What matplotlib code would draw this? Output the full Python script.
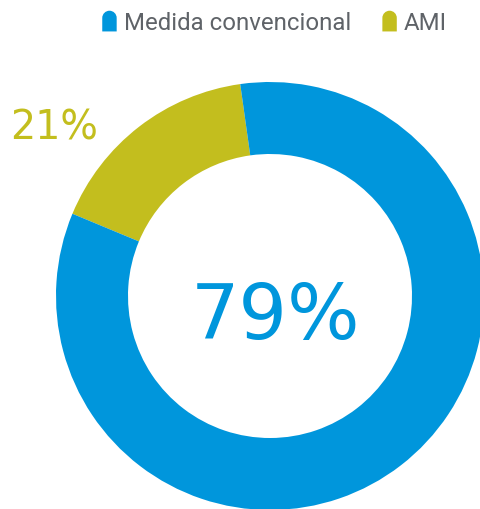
import matplotlib
matplotlib.use("Agg")
import matplotlib.pyplot as plt
import matplotlib.patches as mpatches
from matplotlib.path import Path
from matplotlib.legend_handler import HandlerPatch

# slices as drawn in the reference (AMI first, counter-clockwise)
categories = ["AMI", "Medida convencional"]
shares = [16.5, 83.5]
labels = ["21%", "79%"]
colors = ["#C3BE1E", "#0096DC"]
text_gray = "#5F6368"

plt.rcParams['font.family'] = ['Roboto', 'DejaVu Sans']


class RoundTopHandler(HandlerPatch):
    # legend marker: rectangle with a rounded top
    def create_artists(self, legend, orig_handle, xdescent, ydescent,
                       width, height, fontsize, trans):
        w = width
        h = height
        r = w / 2.0
        x0, y0 = -xdescent, -ydescent
        k = 0.5523
        verts = [
            (x0, y0), (x0 + w, y0), (x0 + w, y0 + h - r),
            (x0 + w, y0 + h - r + k * r), (x0 + r + k * r, y0 + h), (x0 + r, y0 + h),
            (x0 + r - k * r, y0 + h), (x0, y0 + h - r + k * r), (x0, y0 + h - r),
            (x0, y0),
        ]
        codes = [Path.MOVETO, Path.LINETO, Path.LINETO,
                 Path.CURVE4, Path.CURVE4, Path.CURVE4,
                 Path.CURVE4, Path.CURVE4, Path.CURVE4,
                 Path.CLOSEPOLY]
        p = mpatches.PathPatch(Path(verts, codes), facecolor=orig_handle.get_facecolor(),
                               edgecolor='none', transform=trans)
        return [p]


fig = plt.figure(figsize=(4.8, 5.1), dpi=100)
ax = fig.add_axes([0, 0, 1, 1])

ax.pie(shares, colors=colors, startangle=98, counterclock=True,
       center=(270, 213), radius=214,
       wedgeprops=dict(width=72, edgecolor='none'), frame=True)
ax.set_xlim(0, 480)
ax.set_ylim(0, 510)
ax.set_aspect('equal')
ax.axis('off')

ax.text(10, 381, labels[0], color=colors[0], fontsize=28.5, family='DejaVu Sans',
        ha='left', va='center')
ax.text(276, 192, labels[1], color=colors[1], fontsize=55, family='DejaVu Sans',
        ha='center', va='center')

handles = [mpatches.Patch(facecolor=colors[1], label=categories[1]),
           mpatches.Patch(facecolor=colors[0], label=categories[0])]
leg = ax.legend(handles=handles, loc='upper left', bbox_to_anchor=(0.178, 1.01),
                ncol=2, frameon=False, fontsize=17.3, handlelength=0.6, handleheight=0.95,
                handletextpad=0.3, columnspacing=1.3, borderaxespad=0.3,
                handler_map={mpatches.Patch: RoundTopHandler()})
for t in leg.get_texts():
    t.set_color(text_gray)

fig.savefig("out.png", dpi=100)
